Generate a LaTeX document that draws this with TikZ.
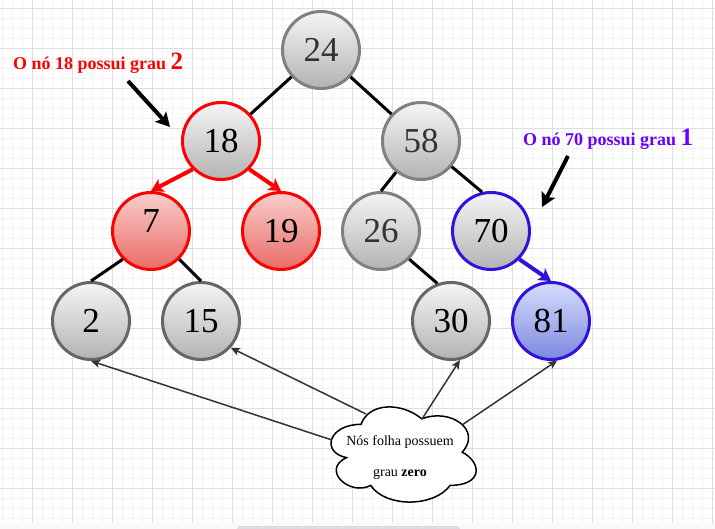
\documentclass[tikz,border=0pt]{standalone}
\usepackage{fontspec}
\setmainfont{Liberation Serif}
\usetikzlibrary{arrows.meta}
\definecolor{gridmajor}{HTML}{DDDDDD}
\definecolor{gridminor}{HTML}{F2F2F2}
\definecolor{graytop}{HTML}{F5F5F5}
\definecolor{graybot}{HTML}{B3B3B3}
\definecolor{redtop}{HTML}{F8CECC}
\definecolor{redbot}{HTML}{EA6B66}
\definecolor{bluetop}{HTML}{D6DEFC}
\definecolor{bluebot}{HTML}{7C88E0}
\definecolor{blueline}{HTML}{3311DD}
\definecolor{strokelight}{HTML}{808080}
\definecolor{strokedark}{HTML}{666666}
\definecolor{textdark}{HTML}{333333}
\definecolor{purplelab}{HTML}{6600FF}
\definecolor{leafline}{HTML}{333333}
\definecolor{stripbg}{HTML}{F8F9FA}
\definecolor{scrollbar}{HTML}{DADCE0}
\begin{document}
\begin{tikzpicture}[x=1pt,y=-1pt,
  treenode/.style={circle, minimum size=77pt, inner sep=0pt, line width=3pt,
    font=\fontsize{35}{35}\selectfont},
  grayA/.style={treenode, draw=strokelight, top color=graytop, bottom color=graybot, text=textdark},
  grayB/.style={treenode, draw=strokedark, top color=graytop, bottom color=graybot, text=black},
  redring/.style={treenode, draw=red, top color=graytop, bottom color=graybot, text=black},
  redfull/.style={treenode, draw=red, top color=redtop, bottom color=redbot, text=black},
  bluering/.style={treenode, draw=blueline, top color=graytop, bottom color=graybot, text=black},
  bluefull/.style={treenode, draw=blueline, top color=bluetop, bottom color=bluebot, text=black},
  treeedge/.style={draw=black, line width=3pt},
  redarrow/.style={draw=red, line width=4pt, -{Stealth[length=12pt,width=14pt,inset=3pt]}},
  bluearrow/.style={draw=blueline, line width=4pt, -{Stealth[length=12pt,width=14pt,inset=3pt]}},
  notearrow/.style={draw=black, line width=4pt, -{Stealth[length=14pt,width=15pt,inset=3pt]}},
  leafarrow/.style={draw=leafline, line width=1.5pt, -{Stealth[length=9pt,width=8pt,inset=2pt]}},
  notelabel/.style={anchor=base west, inner sep=0pt, font=\fontsize{18}{18}\selectfont\bfseries}
]
\useasboundingbox (0,0) rectangle (715,529);
\fill[white] (0,0) rectangle (715,529);
% grid
\foreach \x in {2,12,...,712} \draw[gridminor, line width=0.8pt] (\x,0) -- (\x,523);
\foreach \y in {8,18,...,518} \draw[gridminor, line width=0.8pt] (0,\y) -- (715,\y);
\foreach \x in {32,72,...,712} \draw[gridmajor, line width=0.8pt] (\x,0) -- (\x,523);
\foreach \y in {8,48,...,488} \draw[gridmajor, line width=0.8pt] (0,\y) -- (715,\y);
\fill[stripbg] (0,523) rectangle (715,529);
\fill[scrollbar, rounded corners=3pt] (237,526) rectangle (460,533);

% tree nodes
\node[grayA] (n24) at (321,50) {24};
\node[redring] (n18) at (221,141) {18};
\node[grayA] (n58) at (421,141) {58};
\node[redfull] (n7) at (151,231) {};
\node[inner sep=0pt, font=\fontsize{35}{35}\selectfont] (n7t) at (151,221) {7};
\node[redfull] (n19) at (281,231) {19};
\node[grayA] (n26) at (381,231) {26};
\node[bluering] (n70) at (491,231) {70};
\node[grayB] (n2) at (91,321) {2};
\node[grayB] (n15) at (201,321) {15};
\node[grayB] (n30) at (451,321) {30};
\node[bluefull] (n81) at (551,321) {81};

% tree edges
\draw[treeedge] (n24) -- (n18);
\draw[treeedge] (n24) -- (n58);
\draw[treeedge] (n58) -- (n26.north);
\draw[treeedge] (n58) -- (n70.103);
\draw[treeedge] (n7.south west) -- (n2.north);
\draw[treeedge] (n7.south east) -- (n15.north);
\draw[treeedge] (n26.south east) -- (n30.110);
\draw[redarrow] (n18.south west) -- (n7.north);
\draw[redarrow] (n18.south east) -- (n19.north);
\draw[bluearrow] (n70.south east) -- (n81.north);

% annotations
\node[notelabel, text=red] (lab18) at (13,70) {O nó 18 possui grau {\fontsize{25}{25}\selectfont 2}};
\node[notelabel, text=purplelab] (lab70) at (523,146) {O nó 70 possui grau {\fontsize{25}{25}\selectfont 1}};
\coordinate (a1s) at (128,81);
\coordinate (a1e) at (170,127);
\coordinate (a2s) at (568,156);
\coordinate (a2e) at (542,207);
\draw[notearrow] (a1s) -- (a1e);
\draw[notearrow] (a2s) -- (a2e);

% cloud
\draw[black, line width=1.5pt, fill=white]
  (361.0,424.35)
  .. controls (328.6,424.35) and (320.5,452.1) .. (346.42,457.65)
  .. controls (320.5,469.86) and (349.66,496.5) .. (370.72,485.4)
  .. controls (385.3,507.6) and (433.9,507.6) .. (450.1,485.4)
  .. controls (482.5,485.4) and (482.5,463.2) .. (462.25,452.1)
  .. controls (482.5,429.9) and (450.1,407.7) .. (421.75,418.8)
  .. controls (401.5,402.15) and (369.1,402.15) .. (361.0,424.35) -- cycle;
\node[align=center, inner sep=0pt, font=\fontsize{14}{31}\selectfont] (leafnote) at (400,458)
  {Nós folha possuem\\grau \textbf{zero}};
\coordinate (c2) at (332,440);
\coordinate (c15) at (366,414);
\coordinate (c30) at (422,419);
\coordinate (c81) at (462,425);
\draw[leafarrow] (c2) -- (n2.south);
\draw[leafarrow] (c15) -- (n15.-42);
\draw[leafarrow] (c30) -- (n30.-77);
\draw[leafarrow] (c81) -- (n81.-81);
\end{tikzpicture}
\end{document}
